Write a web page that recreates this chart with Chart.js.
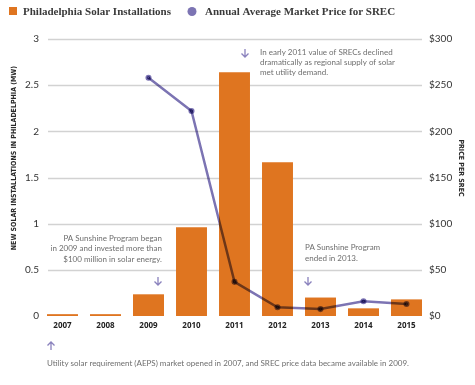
<!DOCTYPE html>
<html>
<head>
<meta charset="utf-8">
<script src="https://cdn.jsdelivr.net/npm/chart.js@4/dist/chart.umd.min.js"></script>
<style>
  html, body { margin: 0; padding: 0; background: #fff; }
  #grafico { display: block; }
</style>
</head>
<body>
<canvas id="grafico" width="475" height="385"></canvas>
<script>
// datos
const years = ['2007', '2008', '2009', '2010', '2011', '2012', '2013', '2014', '2015'];
const installationsMW = [0.02, 0.02, 0.235, 0.96, 2.64, 1.665, 0.2, 0.083, 0.18];
const srecPrice = [null, null, 258, 222, 37, 9.5, 7.5, 16, 13];

const seriesNames = ['Philadelphia Solar Installations', 'Annual Average Market Price for SREC'];
const axisTitles = ['NEW SOLAR INSTALLATIONS IN PHILADELPHIA (MW)', 'PRICE PER SREC'];

const NARANJA = '#df7520';
const MORADO = '#7c74b3';
const GRIS_TEXTO = '#6e6e6e';

// flechas de las notas
function flecha(ctx, x, y, haciaArriba) {
    const d = haciaArriba ? -1 : 1;
    ctx.save();
    ctx.strokeStyle = '#8a82bd';
    ctx.lineWidth = 1.3;
    ctx.beginPath();
    ctx.moveTo(x, y - 4 * d);
    ctx.lineTo(x, y + 4 * d);
    ctx.moveTo(x - 3.5, y + 0.5 * d);
    ctx.lineTo(x, y + 4 * d);
    ctx.lineTo(x + 3.5, y + 0.5 * d);
    ctx.stroke();
    ctx.restore();
}

function lineas(ctx, textos, x, y0, paso, align) {
    ctx.textAlign = align;
    textos.forEach((t, i) => ctx.fillText(t, x, y0 + i * paso));
}

const extras = {
    id: 'extras',
    beforeDatasetsDraw(chart) {
        // cuadricula horizontal (solo entre las barras)
        const ctx = chart.ctx;
        const y = chart.scales.y;
        ctx.save();
        ctx.strokeStyle = '#d2d2d2';
        ctx.lineWidth = 1.3;
        y.ticks.forEach(t => {
            if (t.value === 0) return;
            const py = Math.round(y.getPixelForValue(t.value)) + 0.5;
            ctx.beginPath();
            ctx.moveTo(48, py);
            ctx.lineTo(422, py);
            ctx.stroke();
        });
        ctx.restore();
    },
    beforeDatasetDraw(chart, args) {
        if (chart.data.datasets[args.index].type === 'line') {
            chart.ctx.save();
            chart.ctx.globalCompositeOperation = 'multiply';
        }
    },
    afterDatasetDraw(chart, args) {
        if (chart.data.datasets[args.index].type === 'line') {
            chart.ctx.restore();
        }
    },
    afterDraw(chart) {
        const ctx = chart.ctx;
        ctx.save();

        // leyenda
        ctx.fillStyle = NARANJA;
        ctx.fillRect(9, 7, 8, 8);
        ctx.fillStyle = MORADO;
        ctx.beginPath();
        ctx.arc(192, 11.5, 4.5, 0, Math.PI * 2);
        ctx.fill();
        ctx.fillStyle = '#3a3a3a';
        ctx.font = 'bold 11px "Liberation Serif", "DejaVu Serif", serif';
        ctx.textBaseline = 'middle';
        ctx.textAlign = 'left';
        ctx.fillText(seriesNames[0], 23, 12);
        ctx.fillText(seriesNames[1], 205, 12);

        // titulos de ejes
        ctx.fillStyle = '#2a2a2a';
        ctx.font = 'bold 7px "Liberation Sans Narrow", "DejaVu Sans Condensed", sans-serif';
        ctx.textAlign = 'center';
        ctx.save();
        ctx.translate(14, 158);
        ctx.rotate(-Math.PI / 2);
        ctx.fillText(axisTitles[0], 0, 0);
        ctx.restore();
        ctx.save();
        ctx.translate(461, 168);
        ctx.rotate(Math.PI / 2);
        ctx.fillText(axisTitles[1], 0, 0);
        ctx.restore();

        // notas
        ctx.fillStyle = GRIS_TEXTO;
        ctx.font = '8px Lato, "Open Sans", sans-serif';
        lineas(ctx, ['In early 2011 value of SRECs declined',
                     'dramatically as regional supply of solar',
                     'met utility demand.'], 260, 52.5, 10, 'left');
        lineas(ctx, ['PA Sunshine Program began',
                     'in 2009 and invested more than',
                     '$100 million in solar energy.'], 162, 238.5, 10.3, 'right');
        lineas(ctx, ['PA Sunshine Program',
                     'ended in 2013.'], 305, 247.5, 11, 'left');
        lineas(ctx, ['Utility solar requirement (AEPS) market opened in 2007, and SREC price data became available in 2009.'],
               47, 363.5, 10, 'left');

        flecha(ctx, 245, 53, false);
        flecha(ctx, 158, 281, false);
        flecha(ctx, 308, 281, false);
        flecha(ctx, 51, 346, true);

        ctx.restore();
    }
};

const ctx = document.getElementById('grafico').getContext('2d');

new Chart(ctx, {
    type: 'bar',
    plugins: [extras],
    data: {
        labels: years,
        datasets: [{
            type: 'line',
            label: seriesNames[1],
            data: srecPrice,
            yAxisID: 'y1',
            borderColor: MORADO,
            backgroundColor: MORADO,
            borderWidth: 2.5,
            pointRadius: 1.8,
            pointHoverRadius: 1.8,
            tension: 0,
            order: 0
        }, {
            label: seriesNames[0],
            data: installationsMW,
            yAxisID: 'y',
            backgroundColor: NARANJA,
            borderWidth: 0,
            barPercentage: 0.9,
            categoryPercentage: 0.8,
            order: 1
        }]
    },
    options: {
        responsive: false,
        animation: false,
        layout: { padding: { top: 39, bottom: 51, left: 0, right: 0 } },
        scales: {
            x: {
                offset: true,
                grid: { display: false, drawTicks: false },
                border: { display: false },
                ticks: {
                    color: '#222',
                    font: { family: '"Open Sans", sans-serif', size: 8, weight: 'bold' },
                    padding: 5,
                    maxRotation: 0
                },
                afterFit(s) { s.height = 18; }
            },
            y: {
                position: 'left',
                min: 0,
                max: 3,
                grid: { display: false, drawTicks: false },
                border: { display: false },
                ticks: {
                    stepSize: 0.5,
                    color: '#333',
                    font: { family: 'Lato, sans-serif', size: 10 },
                    padding: 2,
                    callback: v => String(Number(v))
                },
                afterFit(s) { s.width = 41; }
            },
            y1: {
                position: 'right',
                min: 0,
                max: 300,
                grid: { display: false, drawTicks: false },
                border: { display: false },
                ticks: {
                    stepSize: 50,
                    color: '#333',
                    font: { family: 'Lato, sans-serif', size: 10 },
                    padding: 1,
                    callback: v => '$' + v
                },
                afterFit(s) { s.width = 47; }
            }
        },
        plugins: {
            legend: { display: false },
            tooltip: { enabled: false }
        }
    }
});
</script>
</body>
</html>
